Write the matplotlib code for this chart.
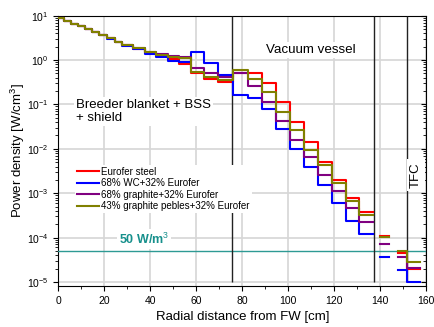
import matplotlib
matplotlib.use('Agg')
import matplotlib.pyplot as plt
import matplotlib.ticker as plticker
import numpy as np

plt.rcParams['font.family'] = ['Liberation Sans', 'DejaVu Sans']
plt.rcParams['mathtext.fontset'] = 'custom'
plt.rcParams['mathtext.rm'] = 'Liberation Sans'
plt.rcParams['mathtext.bf'] = 'Liberation Sans:bold'

# bin edges (cm from first wall)
edges_main = [0, 2.5, 5.5, 8.5, 11.5, 14.5, 17.5, 21, 24.5, 27.5, 32.5, 37.5, 42.5, 47.5,
              52.5, 57.5, 63.5, 69.5, 76, 82.5, 88.7, 94.8, 100.8, 106.8, 112.8, 118.9,
              124.9, 130.9, 137]
edges_gap = [139.7, 144]
edges_tfc = [147.8, 151.7, 157.3]

labels = ['Eurofer steel', '68% WC+32% Eurofer', '68% graphite+32% Eurofer',
          '43% graphite pebles+32% Eurofer']

# power density [W/cm3]
eurofer_main = [8.8, 7.6, 6.5, 5.8, 4.95, 4.3, 3.7, 3.1, 2.6, 2.15, 1.82, 1.45, 1.25, 1.05,
                0.80, 0.50, 0.38, 0.32, 0.50, 0.50, 0.31, 0.115, 0.041, 0.0145, 0.0051,
                0.0020, 0.00078, 0.00037]
wc_main = [8.8, 7.6, 6.5, 5.8, 4.95, 4.3, 3.65, 3.05, 2.55, 2.05, 1.75, 1.38, 1.15, 0.97,
           0.92, 1.5, 0.85, 0.47, 0.164, 0.138, 0.078, 0.028, 0.0098, 0.0039, 0.0015,
           0.00059, 0.00024, 0.00012]
graphite_main = [8.8, 7.6, 6.5, 5.8, 4.95, 4.3, 3.7, 3.1, 2.62, 2.18, 1.84, 1.52, 1.36, 1.25,
                 1.17, 0.68, 0.50, 0.41, 0.52, 0.26, 0.115, 0.043, 0.016, 0.0065, 0.0026,
                 0.0011, 0.00046, 0.00023]
pebbles_main = [8.8, 7.6, 6.5, 5.8, 4.95, 4.3, 3.7, 3.1, 2.6, 2.18, 1.84, 1.5, 1.33, 1.2,
                1.12, 0.55, 0.42, 0.36, 0.60, 0.37, 0.19, 0.069, 0.026, 0.0095, 0.0044,
                0.0017, 0.00068, 0.00032]

eurofer_gap = [1.1e-4]
wc_gap = [3.7e-5]
graphite_gap = [7.3e-5]
pebbles_gap = [1.03e-4]

eurofer_tfc = [4.5e-5, 1.95e-5]
wc_tfc = [1.9e-5, 1.0e-5]
graphite_tfc = [3.6e-5, 2.05e-5]
pebbles_tfc = [5.1e-5, 2.8e-5]

colors = ['#ff0000', '#0000ff', '#800080', '#808000']
zone_bounds = [75.6, 137.1, 151.7]
limit_50 = 5e-5  # 50 W/m3 in W/cm3
decades = [1e-5, 1e-4, 1e-3, 1e-2, 1e-1, 1e0, 1e1]


def step_line(ax, edges, vals, color, label=None):
    ax.plot(edges, np.append(vals, vals[-1]), drawstyle='steps-post', color=color,
            lw=1.5, label=label, zorder=4)


def plot_power():
    fig = plt.figure(figsize=(4.35, 3.27), dpi=100)
    ax = fig.add_axes([0.134, 0.1254, 0.846, 0.8266])

    series = [(eurofer_main, eurofer_gap, eurofer_tfc),
              (wc_main, wc_gap, wc_tfc),
              (graphite_main, graphite_gap, graphite_tfc),
              (pebbles_main, pebbles_gap, pebbles_tfc)]
    for i, (m, g, t) in enumerate(series):
        step_line(ax, edges_main, m, colors[i], labels[i])
        step_line(ax, edges_gap, g, colors[i])
        step_line(ax, edges_tfc, t, colors[i])

    ax.axhline(limit_50, color='#2e9a94', lw=1, zorder=3)
    ax.vlines(zone_bounds, 1e-5, 10, color='#222222', lw=1, zorder=3)

    ax.set_yscale('log')
    ax.set_xlim(0, 160)
    ax.set_ylim(10 ** -5.09, 10)
    ax.xaxis.set_major_locator(plticker.MultipleLocator(20))
    ax.xaxis.set_minor_locator(plticker.MultipleLocator(10))
    minors = [m * d for d in decades[:-1] for m in range(2, 10)]
    ax.yaxis.set_major_locator(plticker.FixedLocator(decades))
    ax.yaxis.set_minor_locator(plticker.FixedLocator(minors))
    ax.yaxis.set_minor_formatter(plticker.NullFormatter())
    ax.grid(True, which='major', color='#d6d6d6', lw=1.2, zorder=0)
    ax.set_axisbelow(True)
    ax.tick_params(axis='both', which='both', direction='out', labelsize=7.5,
                   top=False, right=False)
    ax.tick_params(which='major', length=3.5)
    ax.tick_params(which='minor', length=2)
    ax.tick_params(axis='y', which='both', right=True)
    for t in ax.yaxis.get_major_ticks() + ax.yaxis.get_minor_ticks():
        t.tick2line.set_marker(matplotlib.lines.TICKLEFT)

    ax.set_xlabel('Radial distance from FW [cm]', fontsize=9.5, labelpad=4)
    ax.set_ylabel('Power density [W/cm$^3$]', fontsize=9.5, labelpad=0)

    box = dict(facecolor='white', edgecolor='none', pad=1.5)
    ax.text(110, 1.69, 'Vacuum vessel', ha='center', va='center', fontsize=9.6,
            bbox=box, zorder=5)
    ax.text(7.7, 10 ** -1.16, 'Breeder blanket + BSS\n+ shield', ha='left', va='center',
            fontsize=9.5, linespacing=1.1, bbox=box, zorder=5)
    ax.text(155.5, 10 ** -2.59, 'TFC', ha='center', va='center', rotation=90,
            fontsize=9.5, bbox=dict(facecolor='white', edgecolor='none', pad=2), zorder=5)
    ax.text(37.3, 10 ** -4.03, '50 W/m$^3$', ha='center', va='center', fontsize=9,
            fontweight='bold', color='#17908c', bbox=box, zorder=5)

    leg = ax.legend(loc='upper left', bbox_to_anchor=(0.045, 0.448), fontsize=7,
                    frameon=True, framealpha=1, edgecolor='none', fancybox=False,
                    handlelength=2.3, handletextpad=0.2, labelspacing=0.15,
                    borderpad=0.2, borderaxespad=0)
    leg.set_zorder(5)

    fig.savefig('out.png', dpi=100)


if __name__ == "__main__":
    plot_power()
